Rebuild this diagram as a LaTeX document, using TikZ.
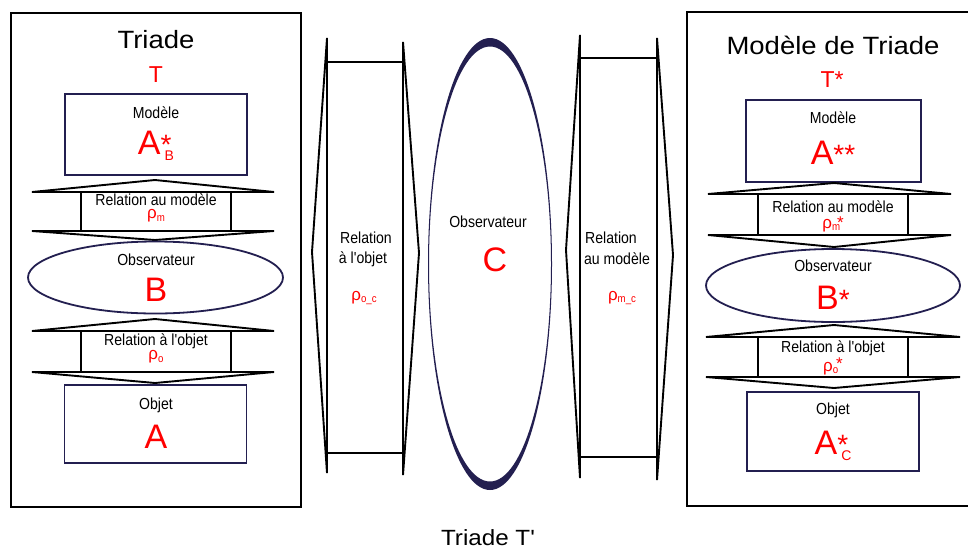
\documentclass[tikz,border=0pt]{standalone}
\usepackage{fontspec}
\newfontfamily\plainsf{Liberation Sans}
\newfontfamily\widesf{Liberation Sans}[FakeStretch=1.1]
\newfontfamily\narrow{Liberation Sans}[FakeStretch=0.88]
\usetikzlibrary{shapes.geometric}
\definecolor{navy}{RGB}{35,31,80}
\definecolor{lblred}{RGB}{255,0,0}
\newcommand\fsz[1]{\fontsize{#1}{#1}\selectfont}
\newcommand\vArrow[9]{%
  \draw[arr] (#2,#5) -- (#1,#4) -- (#3,#5) -- cycle;
  \draw[arr] (#8,#5) rectangle (#9,#6);
  \draw[arr] (#2,#6) -- (#1,#7) -- (#3,#6) -- cycle;}
\newcommand\subt[1]{\raisebox{-2.5pt}{\narrow\fsz{11}#1}}
\begin{document}
\begin{tikzpicture}[x=1pt,y=-1pt,
  font=\plainsf,
  frame/.style={draw=black,line width=2pt},
  navybox/.style={draw=navy,line width=1.6pt,inner sep=0pt},
  arr/.style={draw=black,line width=1.9pt,line join=miter},
  lbl/.style={font=\narrow\fsz{16},inner sep=0pt},
  big/.style={text=lblred,font=\plainsf\fsz{34},inner sep=0pt},
  rho/.style={text=lblred,font=\plainsf\fsz{17},inner sep=0pt},
  title/.style={font=\widesf\fsz{25},inner sep=0pt,anchor=base},
  tmark/.style={text=lblred,font=\plainsf\fsz{23},inner sep=0pt}]
\useasboundingbox (0,0) rectangle (968,549);
\fill[white] (0,0) rectangle (968,549);

% ---------- left triad ----------
\node[frame,minimum width=290pt,minimum height=494pt,inner sep=0pt] (frameL) at (156,260) {};
\node[title] (titleL) at (156,48) {Triade};
\node[tmark] (tL) at (156,75) {T};
\node[navybox,minimum width=182pt,minimum height=81pt] (modL) at (156,134.5) {};
\node[lbl] (modLt) at (156,113) {Modèle};
\node[big] (modLv) at (156,146) {A\rlap{\fsz{28}*}\hspace{4pt}\raisebox{-6pt}{\fsz{14}B}};
\vArrow{155}{32}{274}{180}{192}{231}{240}{81}{231}
\node[lbl] (rmLt) at (156,200) {Relation au modèle};
\node[rho] (rmLv) at (156,216) {ρ\subt{m}};
\node[ellipse,draw=navy,line width=1.8pt,minimum width=255pt,minimum height=72pt,inner sep=0pt] (obsL) at (155.5,277.5) {};
\node[lbl] (obsLt) at (156,260) {Observateur};
\node[big] (obsLv) at (156,290) {B};
\vArrow{155}{32}{274}{319}{331}{372}{383}{81}{231}
\node[lbl] (roLt) at (156,341) {Relation à l'objet};
\node[rho] (roLv) at (156,357) {ρ\subt{o}};
\node[navybox,minimum width=182pt,minimum height=78pt] (objL) at (155.5,424) {};
\node[lbl] (objLt) at (156,405) {Objet};
\node[big] (objLv) at (156,437) {A};

% ---------- middle ----------
\draw[arr] (327,38) -- (312,252) -- (327,473) -- cycle;
\draw[arr] (327,62) rectangle (403,453);
\draw[arr] (403,42) -- (419,253) -- (403,475) -- cycle;
\node[lbl] (roC1) at (366,238) {Relation};
\node[lbl] (roC2) at (363,259) {à l'objet};
\node[rho] (roCv) at (364,298) {ρ\subt{o\_c}};

\fill[navy,even odd rule] (490,264) ellipse [x radius=62, y radius=226]
                          (490,264) ellipse [x radius=61, y radius=217.5];
\node[lbl] (obsCt) at (488,222) {Observateur};
\node[big] (obsCv) at (495,260) {C};

\draw[arr] (580,35) -- (566,250) -- (580,478) -- cycle;
\draw[arr] (580,58) rectangle (657,457);
\draw[arr] (657,38) -- (673,255) -- (657,480) -- cycle;
\node[lbl] (rmC1) at (611,238) {Relation};
\node[lbl] (rmC2) at (617,259) {au modèle};
\node[rho] (rmCv) at (622,298) {ρ\subt{m\_c}};

% ---------- right triad ----------
\node[frame,minimum width=290pt,minimum height=494pt,inner sep=0pt] (frameR) at (832,259) {};
\node[title] (titleR) at (833,54) {Modèle de Triade};
\node[tmark] (tR) at (832,80) {T*};
\node[navybox,minimum width=175pt,minimum height=82pt] (modR) at (833.5,141) {};
\node[lbl] (modRt) at (833,118) {Modèle};
\node[big] (modRv) at (833,153) {A\fsz{28}**};
\vArrow{834}{708}{951}{183}{194}{235}{247}{758}{908}
\node[lbl] (rmRt) at (833,207) {Relation au modèle};
\node[rho] (rmRv) at (833,224) {ρ\subt{m}\kern-3pt*};
\node[ellipse,draw=navy,line width=1.8pt,minimum width=254pt,minimum height=73pt,inner sep=0pt] (obsR) at (833,285.5) {};
\node[lbl] (obsRt) at (833,266) {Observateur};
\node[big] (obsRv) at (833,298) {B\fsz{28}*};
\vArrow{834}{706}{960}{325}{337}{377}{388}{758}{908}
\node[lbl] (roRt) at (833,348) {Relation à l'objet};
\node[rho] (roRv) at (833,366) {ρ\subt{o}\kern-2pt\raisebox{2pt}{*}};
\node[navybox,minimum width=172pt,minimum height=79pt] (objR) at (833,431.5) {};
\node[lbl] (objRt) at (833,410) {Objet};
\node[big] (objRv) at (833,446) {A\rlap{\fsz{28}*}\hspace{4pt}\raisebox{-6pt}{\fsz{14}C}};

% ---------- caption ----------
\node[font=\widesf\fsz{22},inner sep=0pt,anchor=base] (cap) at (488,545.5) {Triade T'};
\end{tikzpicture}
\end{document}
